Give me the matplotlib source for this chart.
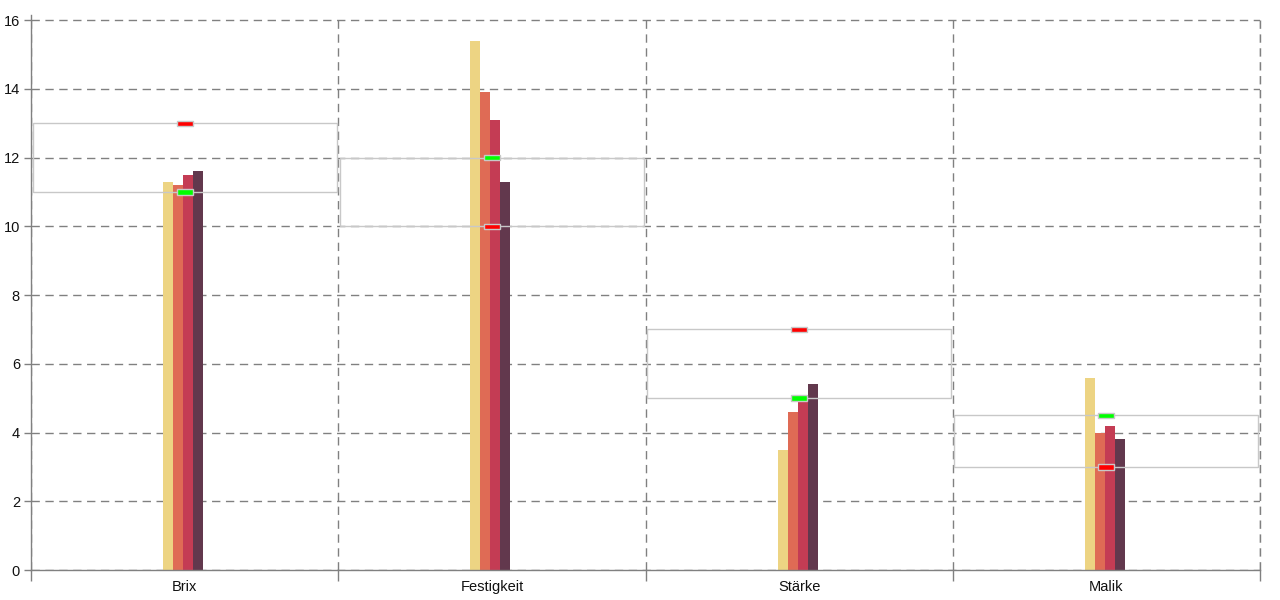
import matplotlib
matplotlib.use("Agg")
import matplotlib.pyplot as plt
from matplotlib.patches import Rectangle
import numpy as np

categories = ["Brix", "Festigkeit", "Stärke", "Malik"]
series_a = [11.3, 15.4, 3.5, 5.6]
series_b = [11.2, 13.9, 4.6, 4.0]
series_c = [11.5, 13.1, 5.1, 4.2]
series_d = [11.6, 11.3, 5.4, 3.8]
box_low = [11, 10, 5, 3]
box_high = [13, 12, 7, 4.5]
green_marks = [11, 12, 5, 4.5]
red_marks = [13, 10, 7, 3]
y_ticks = [0, 2, 4, 6, 8, 10, 12, 14, 16]

colors = ["#EDD483", "#DF6B55", "#C43C54", "#62384D"]

plt.rcParams['font.family'] = ['Liberation Sans', 'DejaVu Sans']

fig = plt.figure(figsize=(12.8, 6), dpi=100)
ax = fig.add_axes([31/1280, 30/600, (1260-31)/1280, (585-30)/600])

x = np.arange(len(categories))
bw = 0.0325
for i, (vals, c) in enumerate(zip([series_a, series_b, series_c, series_d], colors)):
    ax.bar(x - 0.005 + (i - 1.5) * bw, vals, width=bw, color=c, zorder=2, linewidth=0)

for i in range(len(categories)):
    ax.add_patch(Rectangle((i - 0.495, box_low[i]), 0.99, box_high[i] - box_low[i],
                           facecolor='none', edgecolor='#c8c8c8', lw=1, zorder=3))

mw, mh = 0.052, 0.16
for i in range(len(categories)):
    for val, c in [(green_marks[i], '#00ff00'), (red_marks[i], '#ff0000')]:
        ax.add_patch(Rectangle((i - mw/2, val - mh/2), mw, mh,
                               facecolor=c, edgecolor='#c8c8c8', lw=1, zorder=4))

ax.set_xlim(-0.5, 3.5)
ax.set_ylim(0, 16.15)
ax.set_yticks(y_ticks)
ax.set_xticks(x)
ax.set_xticklabels(categories)
ax.set_xticks(np.arange(-0.5, 3.6, 1), minor=True)

ax.tick_params(axis='x', which='major', length=0, pad=7, labelsize=10.5, labelcolor='#111111')
ax.tick_params(axis='x', which='minor', length=8, color='#808080', width=1)
ax.tick_params(axis='y', which='major', length=5, color='#808080', width=1, pad=3,
               labelsize=10.5, labelcolor='#111111')

ax.grid(axis='y', which='major', color='#808080', linestyle=(0, (6, 4)), lw=1, zorder=1)
ax.grid(axis='x', which='minor', color='#808080', linestyle=(0, (6, 4)), lw=1, zorder=1)
ax.grid(axis='x', which='major', visible=False)
ax.axvline(3.5, color='#808080', linestyle=(0, (6, 4)), lw=1, zorder=1, clip_on=False)

for s in ['top', 'right']:
    ax.spines[s].set_visible(False)
for s in ['left', 'bottom']:
    ax.spines[s].set_color('#808080')
    ax.spines[s].set_linewidth(1)
ax.set_axisbelow(True)

fig.savefig("out.png", dpi=100, facecolor='white')
